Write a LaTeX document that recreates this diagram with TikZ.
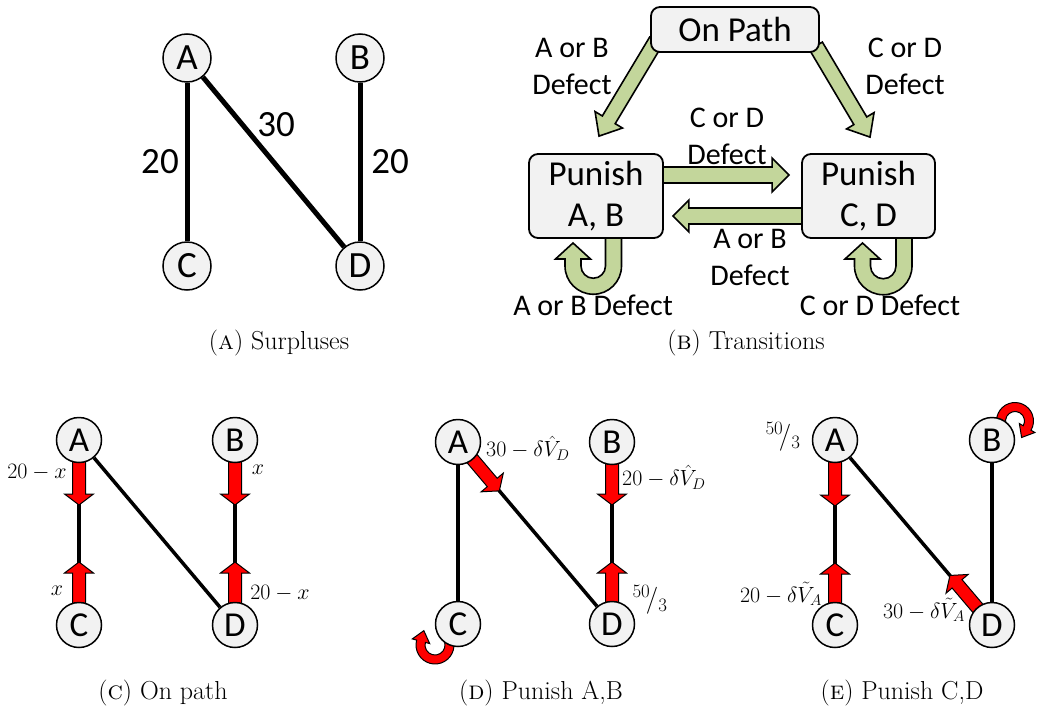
\RequirePackage{fix-cm}
\documentclass[tikz,border=0pt]{standalone}
\usepackage{fontspec}
\newfontfamily\calib{Carlito}
\usetikzlibrary{calc}
\pgfdeclarelayer{bg}
\pgfsetlayers{bg,main}
\definecolor{grn}{HTML}{C3D69B}
\definecolor{boxgray}{HTML}{F2F2F2}
\tikzset{
  vtx/.style={circle, draw=black, line width=1.5pt, fill=boxgray, minimum size=48pt, inner sep=0pt, font=\calib\fontsize{37}{37}\selectfont},
  svtx/.style={vtx, minimum size=45pt, font=\calib\fontsize{35}{35}\selectfont},
  edgeA/.style={line width=5pt},
  edgeS/.style={line width=3.5pt},
  state/.style={draw=black, rounded corners=9pt, line width=1.8pt, fill=boxgray, font=\calib\fontsize{35}{41}\selectfont, align=center, inner sep=0pt},
  glab/.style={font=\calib\fontsize{30}{37}\selectfont, align=center},
  num/.style={font=\calib\fontsize{37}{37}\selectfont},
  mlab/.style={font=\fontsize{22}{26}\selectfont, inner sep=1pt},
  flab/.style={font=\fontsize{27}{30}\selectfont, inner sep=1pt},
  greenarr/.style={draw=black, line width=1.6pt, fill=grn, line join=miter},
  redarr/.style={draw=black, line width=1pt, fill=red, line join=miter},
  captxt/.style={font=\fontsize{26}{30}\selectfont}
}
% #1 style, #2 from, #3 tip, #4 shaft half width, #5 head half width, #6 head length
\newcommand\blockarr[6]{%
  \coordinate (ba-s) at (#2);
  \coordinate (ba-t) at (#3);
  \coordinate (ba-h) at ($(ba-t)!#6!(ba-s)$);
  \draw[#1] ($(ba-s)!#4!90:(ba-t)$) -- ($(ba-h)!#4!-90:(ba-s)$) -- ($(ba-h)!#5!-90:(ba-s)$) -- (ba-t) -- ($(ba-h)!#5!90:(ba-s)$) -- ($(ba-h)!#4!90:(ba-s)$) -- ($(ba-s)!#4!-90:(ba-t)$) -- cycle;
}
\begin{document}
\begin{tikzpicture}[x=1pt,y=-1pt]
\useasboundingbox (0,0) rectangle (1038,715);

% ---------- Panel A ----------
\node[vtx] (A1) at (187,58) {A};
\node[vtx] (B1) at (360,58) {B};
\node[vtx] (C1) at (187,266) {C};
\node[vtx] (D1) at (360,266) {D};
\node[num] (n1) at (160,162) {20};
\node[num] (n2) at (276,125) {30};
\node[num] (n3) at (390,162) {20};

% ---------- Panel B ----------
\node[state, minimum width=168pt, minimum height=45pt] (OP) at (735,29.5) {On Path};
\node[state, minimum width=134pt, minimum height=84pt] (PAB) at (596,196) {Punish\\A, B};
\node[state, minimum width=133pt, minimum height=84pt] (PCD) at (868.5,196) {Punish\\C, D};
\node[glab] (t1) at (572,66.5) {A or B\\Defect};
\node[glab] (t2) at (905,66.5) {C or D\\Defect};
\node[glab] (t3) at (727,136) {C or D\\Defect};
\node[glab] (t4) at (750,257) {A or B\\Defect};
\node[glab] (t5) at (593,305) {A or B Defect};
\node[glab] (t6) at (880,305) {C or D Defect};

% ---------- Panel C ----------
\node[svtx] (A2) at (79,440) {A};
\node[svtx] (B2) at (235,440) {B};
\node[svtx] (C2) at (79,625) {C};
\node[svtx] (D2) at (235,625) {D};
\node[mlab] (m1) at (37,472) {$20-x$};
\node[mlab] (m2) at (258,470) {$x$};
\node[mlab] (m3) at (57,591) {$x$};
\node[mlab] (m4) at (280,593) {$20-x$};

% ---------- Panel D ----------
\node[svtx] (A3) at (458,442) {A};
\node[svtx] (B3) at (612,442) {B};
\node[svtx] (C3) at (458,624) {C};
\node[svtx] (D3) at (612,624) {D};
\node[mlab, anchor=west] (m5) at (485,448) {$30-\delta\hat{V}_D$};
\node[mlab, anchor=west] (m6) at (621,477) {$20-\delta\hat{V}_D$};
\node[flab] (m7) at (650,600) {$^{50}\!/_{3}$};

% ---------- Panel E ----------
\node[svtx] (A4) at (835,440) {A};
\node[svtx] (B4) at (992,440) {B};
\node[svtx] (C4) at (835,625) {C};
\node[svtx] (D4) at (992,625) {D};
\node[flab] (m8) at (783,437) {$^{50}\!/_{3}$};
\node[mlab, anchor=east] (m9) at (823,594) {$20-\delta\tilde{V}_A$};
\node[mlab, anchor=east] (m10) at (966,610) {$30-\delta\tilde{V}_A$};

% ---------- Captions ----------
\node[captxt] (capa) at (279,343) {(\textsc{a}) Surpluses};
\node[captxt] (capb) at (746,343) {(\textsc{b}) Transitions};
\node[captxt] (capc) at (163,693) {(\textsc{c}) On path};
\node[captxt] (capd) at (541,693) {(\textsc{d}) Punish A,B};
\node[captxt] (cape) at (902,693) {(\textsc{e}) Punish C,D};

\begin{pgfonlayer}{bg}
  % panel A edges
  \draw[edgeA] (A1) -- (C1);
  \draw[edgeA] (A1) -- (D1);
  \draw[edgeA] (B1) -- (D1);
  % panel B arrows
  \blockarr{greenarr}{$(OP.south west)+(6,-12)$}{$(PAB.north)+(3,-17)$}{7.5pt}{16pt}{19pt}
  \blockarr{greenarr}{$(OP.south east)+(-4,-7)$}{$(PCD.north)+(1.5,-16)$}{7.5pt}{16pt}{19pt}
  \blockarr{greenarr}{$(PAB.east)+(-5,-21)$}{$(PCD.west)+(-12,-21)$}{8pt}{17pt}{17pt}
  \blockarr{greenarr}{$(PCD.west)+(5,20)$}{$(PAB.east)+(9,20)$}{8pt}{16pt}{16pt}
  \draw[greenarr] (621.5,232) -- (621.5,266) arc[start angle=0,end angle=180,radius=28.25] -- (565,259) -- (555.5,259) -- (573,243) -- (590.5,259) -- (581,259) -- (581,266) arc[start angle=180,end angle=0,radius=12.25] -- (605.5,232) -- cycle;
  \draw[greenarr] (912,232) -- (912,266) arc[start angle=0,end angle=180,radius=28.75] -- (854.5,259) -- (845,259) -- (862.5,243) -- (880,259) -- (870.5,259) -- (870.5,266) arc[start angle=180,end angle=0,radius=12.75] -- (896,232) -- cycle;
  % panel C
  \draw[edgeS] (A2) -- (C2);
  \draw[edgeS] (A2) -- (D2);
  \draw[edgeS] (B2) -- (D2);
  \blockarr{redarr}{A2}{$(A2)+(0,65)$}{6.5pt}{14.5pt}{11pt}
  \blockarr{redarr}{B2}{$(B2)+(0,65)$}{6.5pt}{14.5pt}{11pt}
  \blockarr{redarr}{C2}{$(C2)+(0,-63)$}{6.5pt}{14.5pt}{11pt}
  \blockarr{redarr}{D2}{$(D2)+(0,-63)$}{6.5pt}{14.5pt}{11pt}
  % panel D
  \draw[edgeS] (A3) -- (C3);
  \draw[edgeS] (A3) -- (D3);
  \draw[edgeS] (B3) -- (D3);
  \blockarr{redarr}{A3}{$(A3)!64pt!(D3)$}{6.5pt}{14.5pt}{11pt}
  \blockarr{redarr}{B3}{$(B3)+(0,63)$}{6.5pt}{14.5pt}{11pt}
  \blockarr{redarr}{D3}{$(D3)+(0,-62)$}{6.5pt}{14.5pt}{11pt}
  \draw[redarr] ([shift={(435,645)}] -30:19) arc[start angle=-30, end angle=195, radius=19] -- ([shift={(435,645)}] 195:23.5) -- (423.84,630.62) -- ([shift={(435,645)}] 195:5.5) -- ([shift={(435,645)}] 195:10) arc[start angle=195, end angle=-30, radius=10] -- cycle;
  % panel E
  \draw[edgeS] (A4) -- (C4);
  \draw[edgeS] (A4) -- (D4);
  \draw[edgeS] (B4) -- (D4);
  \blockarr{redarr}{A4}{$(A4)+(0,66)$}{6.5pt}{14.5pt}{11pt}
  \blockarr{redarr}{C4}{$(C4)+(0,-62)$}{6.5pt}{14.5pt}{11pt}
  \blockarr{redarr}{D4}{$(D4)!65pt!(A4)$}{6.5pt}{14.5pt}{11pt}
  \draw[redarr] ([shift={(1015,421)}] 160:18.5) arc[start angle=160, end angle=390, radius=18.5] -- ([shift={(1015,421)}] 390:23) -- (1021.6,437.5) -- ([shift={(1015,421)}] 390:5) -- ([shift={(1015,421)}] 390:9.5) arc[start angle=390, end angle=160, radius=9.5] -- cycle;
\end{pgfonlayer}
\end{tikzpicture}
\end{document}
